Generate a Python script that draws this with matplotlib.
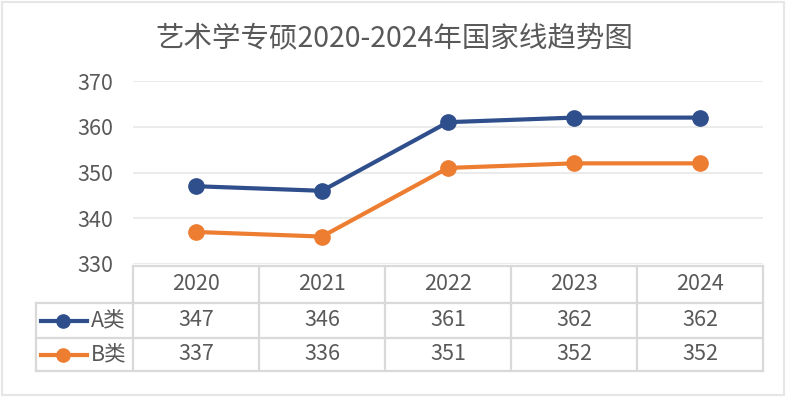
import matplotlib
matplotlib.use("Agg")
import matplotlib.pyplot as plt
from matplotlib.patches import Rectangle
from matplotlib.lines import Line2D
import numpy as np

plt.rcParams['font.family'] = ['Noto Sans CJK SC', 'DejaVu Sans']

title = "艺术学专硕2020-2024年国家线趋势图"
years = ["2020", "2021", "2022", "2023", "2024"]
series_names = ["A类", "B类"]
a_vals = [347, 346, 361, 362, 362]
b_vals = [337, 336, 351, 352, 352]
yticks = [330, 340, 350, 360, 370]

colors = ["#2F4E8C", "#ED7D31"]
text_color = "#595959"
grid_color = "#D9D9D9"
fs = 15.5

W, H = 788, 398
fig = plt.figure(figsize=(W / 100, H / 100), dpi=100)

def fx(px):
    return px / W

def fy(py):
    return 1 - py / H

# outer frame
fig.patches.append(Rectangle((fx(2), fy(395)), fx(782), (393) / H, transform=fig.transFigure,
                             fill=False, edgecolor="#E6E6E6", lw=1.5))

left, right = 133, 763
top, bottom = 81, 264
ax = fig.add_axes([fx(left), fy(bottom), fx(right - left), (bottom - top) / H])
x = np.arange(len(years))
ax.set_xlim(-0.5, len(years) - 0.5)
ax.set_ylim(yticks[0], yticks[-1])
ax.set_yticks(yticks)
ax.set_yticklabels([str(t) for t in yticks], fontsize=fs, color=text_color)
ax.set_xticks([])
for s in ax.spines.values():
    s.set_visible(False)
ax.tick_params(axis='y', length=0, pad=14)
ax.grid(axis='y', color="#EBEBEB", lw=1.5)
ax.set_axisbelow(True)

for vals, c in zip([a_vals, b_vals], colors):
    ax.plot(x, vals, color=c, lw=3, marker='o', markersize=11, zorder=3, clip_on=False)

fig.text(0.5, fy(38), title, ha='center', va='center', fontsize=20.5, color=text_color)

# data table
t_top, r1, r2, t_bot = 266, 303, 338, 371
leg_left = 36
lw = 1.6
col_edges = [left + i * (right - left) / len(years) for i in range(len(years) + 1)]

def hline(y, x0, x1):
    fig.add_artist(Line2D([fx(x0), fx(x1)], [fy(y), fy(y)], color=grid_color, lw=lw))

def vline(xp, y0, y1):
    fig.add_artist(Line2D([fx(xp), fx(xp)], [fy(y0), fy(y1)], color=grid_color, lw=lw))

hline(t_top, left, right)
for yy in (r1, r2, t_bot):
    hline(yy, leg_left, right)
for xe in col_edges:
    vline(xe, t_top, t_bot)
vline(leg_left, r1, t_bot)

row_centers = [(t_top + r1) / 2, (r1 + r2) / 2, (r2 + t_bot) / 2]
for i, yr in enumerate(years):
    cx = fx((col_edges[i] + col_edges[i + 1]) / 2)
    fig.text(cx, fy(row_centers[0]), yr, ha='center', va='center', fontsize=fs, color=text_color)
    fig.text(cx, fy(row_centers[1]), str(a_vals[i]), ha='center', va='center', fontsize=fs, color=text_color)
    fig.text(cx, fy(row_centers[2]), str(b_vals[i]), ha='center', va='center', fontsize=fs, color=text_color)

for k, (name, c) in enumerate(zip(series_names, colors)):
    yc = fy(row_centers[k + 1])
    fig.add_artist(Line2D([fx(41), fx(87)], [yc, yc], color=c, lw=3))
    fig.add_artist(Line2D([fx(63)], [yc], color=c, marker='o', markersize=9.5))
    fig.text(fx(91), yc, name, ha='left', va='center', fontsize=fs, color=text_color)

fig.savefig("out.png", dpi=100)
